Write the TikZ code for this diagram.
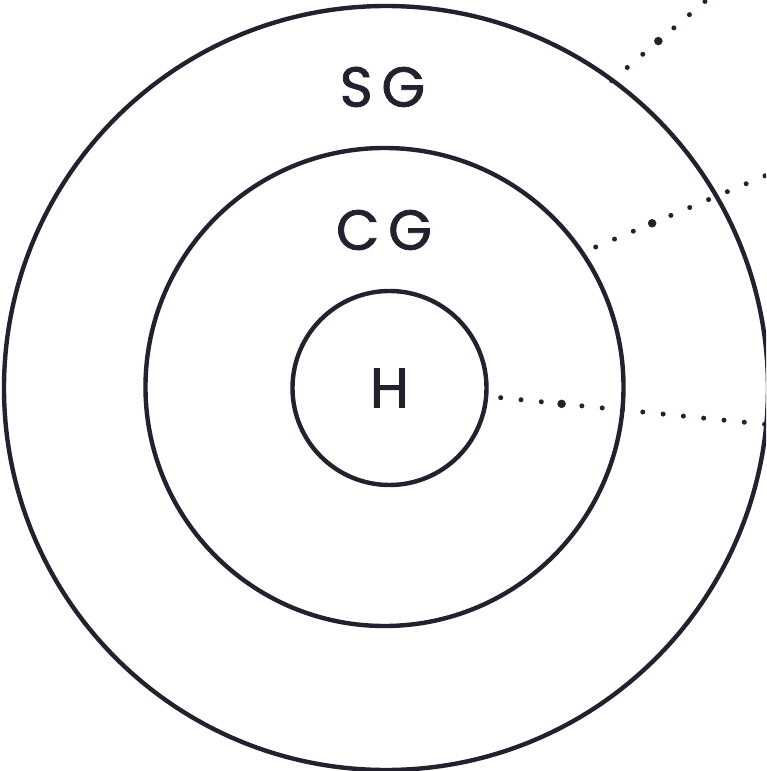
\documentclass[tikz,border=0pt]{standalone}
\usepackage{fontspec}
\setmainfont{Poppins}[FakeBold=1.4]
\usetikzlibrary{calc}

\definecolor{ink}{RGB}{36,32,46}

\tikzset{
  ring/.style={circle, draw=ink, line width=0.088cm, inner sep=0pt},
  tag/.style={text=ink, font=\fontsize{32}{34}\selectfont, inner sep=0pt},
  link/.style={ink, line width=0.1cm, line cap=round, dash pattern=on 0pt off 0.408cm},
  knot/.style={fill=ink}
}

\begin{document}
\begin{tikzpicture}

  \useasboundingbox (-7.74,-7.66) rectangle (7.58,7.76);
  \clip (-7.74,-7.66) rectangle (7.58,7.76);

  % three nested rings
  \node[ring, minimum size=15.28cm] (shell) at (-0.02,0) {};
  \node[ring, minimum size=9.56cm] (core) at (-0.05,0.02) {};
  \node[ring, tag, minimum size=3.88cm] (hub) at (0.05,0) {H};

  \node[tag] (sg) at (-0.09,6.02) {S\kern5pt G};
  \node[tag] (cg) at (-0.06,3.16) {C\kern5pt G};

  % dotted leads going off to the right
  \coordinate (sg-from) at (4.494,6.146);
  \coordinate (sg-to) at ($(sg-from)+(40.35:4)$);
  \coordinate (cg-from) at (4.174,2.82);
  \coordinate (cg-to) at ($(cg-from)+(22.8:5)$);
  \coordinate (h-from) at (2.274,-0.194);
  \coordinate (h-to) at ($(h-from)+(-5.75:6)$);

  \draw[link] (sg-from) -- (sg-to);
  \draw[link] (cg-from) -- (cg-to);
  \draw[link] (h-from) -- (h-to);

  \fill[knot] ($(sg-from)!1.224cm!(sg-to)$) circle (0.085);
  \fill[knot] ($(cg-from)!1.224cm!(cg-to)$) circle (0.085);
  \fill[knot] ($(h-from)!1.224cm!(h-to)$) circle (0.085);

\end{tikzpicture}
\end{document}
